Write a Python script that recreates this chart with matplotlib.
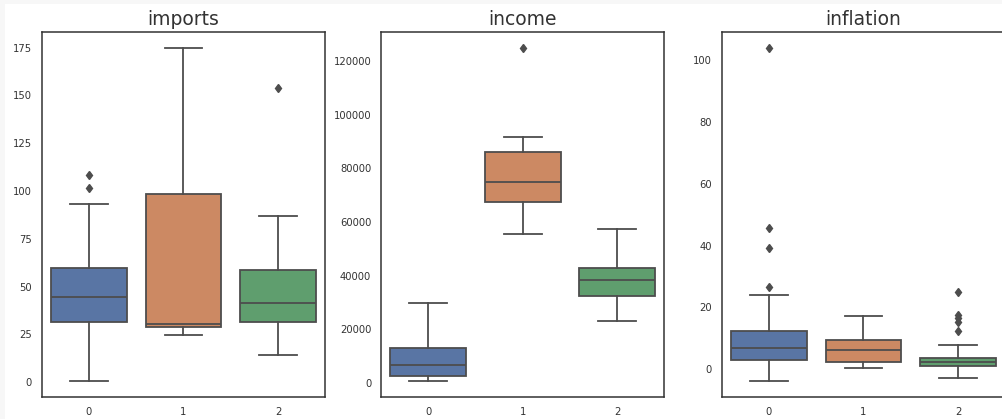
import colorsys
import matplotlib
matplotlib.use("Agg")
import matplotlib.pyplot as plt
import matplotlib.colors as mcolors
from matplotlib.patches import Rectangle

# cluster labels on the x axis
groups = ["0", "1", "2"]
titles = ["imports", "income", "inflation"]

# box stats per cluster: whisker low, q1, median, q3, whisker high
imports_low = [0.7, 24.4, 14.3]
imports_q1 = [31.3, 28.7, 31.3]
imports_med = [44.6, 30.5, 41.3]
imports_q3 = [59.6, 98.4, 58.7]
imports_high = [93.4, 174.7, 87.1]
imports_fliers = [[101.4, 108.5], [], [154.1]]

income_low = [860, 55650, 23000]
income_q1 = [2470, 67340, 32230]
income_med = [6830, 75060, 38200]
income_q3 = [13070, 86130, 42950]
income_high = [29880, 91720, 57370]
income_fliers = [[], [124700], []]

inflation_low = [-3.8, 0.2, -2.9]
inflation_q1 = [2.9, 2.4, 0.8]
inflation_med = [6.7, 6.2, 2.1]
inflation_q3 = [12.2, 9.5, 3.6]
inflation_high = [23.9, 17.1, 7.8]
inflation_fliers = [[26.5, 39.3, 45.8, 103.9], [], [12.4, 15.3, 16.5, 17.6, 24.9]]

panels = [
    (imports_low, imports_q1, imports_med, imports_q3, imports_high, imports_fliers),
    (income_low, income_q1, income_med, income_q3, income_high, income_fliers),
    (inflation_low, inflation_q1, inflation_med, inflation_q3, inflation_high, inflation_fliers),
]

deep = ["#4C72B0", "#DD8452", "#55A868"]


def desaturate(color, prop=0.75):
    # same idea as seaborn's default saturation on boxes
    r, g, b = mcolors.to_rgb(color)
    h, l, s = colorsys.rgb_to_hls(r, g, b)
    return colorsys.hls_to_rgb(h, l, s * prop)


box_colors = [desaturate(c) for c in deep]
line_color = "#4d4d4d"
spine_color = "#333333"

W, H = 1003, 419
fig = plt.figure(figsize=(W / 100, H / 100), dpi=100)
fig.patch.set_facecolor("#f7f7f7")
fig.add_artist(Rectangle((5 / W, 0), 1, 1 - 4 / H, transform=fig.transFigure,
                         facecolor="white", edgecolor="none", zorder=0))

lefts = [41.7, 381.0, 721.7]
ax_w = 283.5
top, bottom = 31.7, 397.3

for i, (left, stats_src) in enumerate(zip(lefts, panels)):
    ax = fig.add_axes([left / W, 1 - bottom / H, ax_w / W, (bottom - top) / H])
    lo, q1, med, q3, hi, fl = stats_src
    stats = []
    for j in range(len(groups)):
        stats.append(dict(whislo=lo[j], q1=q1[j], med=med[j], q3=q3[j],
                          whishi=hi[j], fliers=fl[j], label=groups[j]))
    bp = ax.bxp(stats, positions=range(len(groups)), widths=0.8,
                patch_artist=True, showfliers=True,
                boxprops=dict(edgecolor=line_color, linewidth=1.3),
                whiskerprops=dict(color=line_color, linewidth=1.3),
                capprops=dict(color=line_color, linewidth=1.3),
                medianprops=dict(color=line_color, linewidth=1.3),
                flierprops=dict(marker="d", markersize=4.5, markerfacecolor=line_color,
                                markeredgecolor=line_color, linestyle="none"))
    for patch, c in zip(bp["boxes"], box_colors):
        patch.set_facecolor(c)
    for cap in bp["caps"]:
        # caps at half the box width like seaborn
        x = cap.get_xdata()
        mid = (x[0] + x[1]) / 2
        cap.set_xdata([mid - 0.2, mid + 0.2])

    ax.set_xlim(-0.5, 2.5)
    ax.margins(y=0.05)
    ax.set_title(titles[i], fontsize=13.5, color=spine_color, pad=5)
    ax.tick_params(length=0, labelsize=7.2, labelcolor=spine_color, pad=7)
    for s in ax.spines.values():
        s.set_color(spine_color)
        s.set_linewidth(1.1)
    ax.set_facecolor("white")

fig.savefig("out.png", dpi=100)
